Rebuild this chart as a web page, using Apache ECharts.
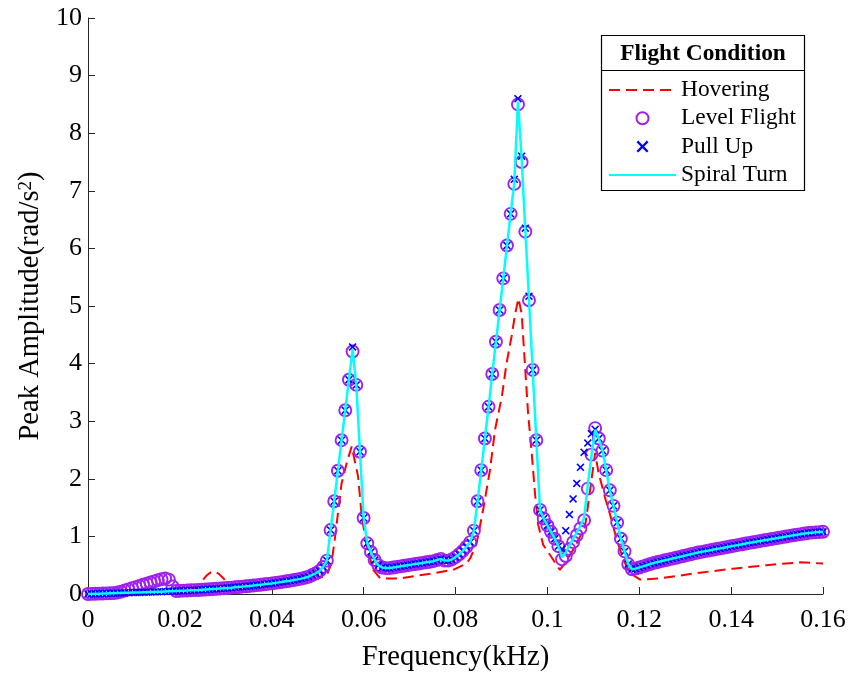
<!DOCTYPE html>
<html>
<head>
<meta charset="utf-8">
<script src="https://cdn.jsdelivr.net/npm/echarts@6/dist/echarts.min.js"></script>
<style>
html,body{margin:0;padding:0;background:#fff;}
#chart{width:858px;height:674px;}
</style>
</head>
<body>
<div id="chart"></div>
<script>
// Frequency grid (kHz) shared by Level Flight, Pull Up and Spiral Turn
const freqKHz = [
0,0.0008,0.0016,0.0024,0.0032,0.004,0.0048,0.0056,0.0064,0.0072,
0.008,0.0088,0.0096,0.0104,0.0112,0.012,0.0128,0.0136,0.0144,0.0152,
0.016,0.0168,0.0176,0.0184,0.0192,0.02,0.0208,0.0216,0.0224,0.0232,
0.024,0.0248,0.0256,0.0264,0.0272,0.028,0.0288,0.0296,0.0304,0.0312,
0.032,0.0328,0.0336,0.0344,0.0352,0.036,0.0368,0.0376,0.0384,0.0392,
0.04,0.0408,0.0416,0.0424,0.0432,0.044,0.0448,0.0456,0.0464,0.0472,
0.048,0.0488,0.0496,0.0504,0.0512,0.052,0.0528,0.0536,0.0544,0.0552,
0.056,0.0568,0.0576,0.0584,0.0592,0.06,0.0608,0.0616,0.0624,0.0632,
0.064,0.0648,0.0656,0.0664,0.0672,0.068,0.0688,0.0696,0.0704,0.0712,
0.072,0.0728,0.0736,0.0744,0.0752,0.076,0.0768,0.0776,0.0784,0.0792,
0.08,0.0808,0.0816,0.0824,0.0832,0.084,0.0848,0.0856,0.0864,0.0872,
0.088,0.0888,0.0896,0.0904,0.0912,0.092,0.0928,0.0936,0.0944,0.0952,
0.096,0.0968,0.0976,0.0984,0.0992,0.1,0.1008,0.1016,0.1024,0.1032,
0.104,0.1048,0.1056,0.1064,0.1072,0.108,0.1088,0.1096,0.1104,0.1112,
0.112,0.1128,0.1136,0.1144,0.1152,0.116,0.1168,0.1176,0.1184,0.1192,
0.12,0.1208,0.1216,0.1224,0.1232,0.124,0.1248,0.1256,0.1264,0.1272,
0.128,0.1288,0.1296,0.1304,0.1312,0.132,0.1328,0.1336,0.1344,0.1352,
0.136,0.1368,0.1376,0.1384,0.1392,0.14,0.1408,0.1416,0.1424,0.1432,
0.144,0.1448,0.1456,0.1464,0.1472,0.148,0.1488,0.1496,0.1504,0.1512,
0.152,0.1528,0.1536,0.1544,0.1552,0.156,0.1568,0.1576,0.1584,0.1592,
0.16
];

const levelFlight = [
0.000,0.002,0.004,0.006,0.008,0.010,0.014,0.016,0.025,0.040,
0.060,0.080,0.100,0.120,0.140,0.160,0.180,0.200,0.220,0.240,
0.255,0.270,0.250,0.130,0.052,0.055,0.058,0.061,0.064,0.067,
0.070,0.074,0.078,0.082,0.086,0.090,0.095,0.100,0.105,0.110,
0.116,0.122,0.128,0.134,0.140,0.147,0.154,0.161,0.168,0.176,
0.184,0.193,0.202,0.211,0.221,0.231,0.242,0.254,0.267,0.281,
0.300,0.330,0.360,0.400,0.470,0.580,1.110,1.610,2.140,2.670,
3.190,3.720,4.210,3.630,2.470,1.320,0.880,0.730,0.590,0.500,
0.460,0.450,0.450,0.460,0.470,0.480,0.490,0.500,0.510,0.520,
0.530,0.540,0.550,0.560,0.570,0.590,0.610,0.580,0.580,0.600,
0.640,0.690,0.750,0.820,0.900,1.100,1.610,2.150,2.700,3.250,
3.820,4.380,4.930,5.480,6.050,6.600,7.120,8.500,7.500,6.290,
5.100,3.890,2.670,1.460,1.310,1.190,1.080,0.960,0.830,0.600,
0.660,0.780,0.900,1.020,1.140,1.280,1.830,2.420,2.880,2.700,
2.490,2.150,1.800,1.530,1.240,0.960,0.740,0.520,0.430,0.440,
0.460,0.480,0.500,0.520,0.540,0.555,0.570,0.585,0.600,0.615,
0.630,0.645,0.660,0.675,0.690,0.705,0.720,0.732,0.744,0.756,
0.768,0.780,0.792,0.804,0.816,0.828,0.840,0.852,0.864,0.876,
0.888,0.899,0.910,0.921,0.932,0.943,0.954,0.965,0.976,0.987,
0.998,1.009,1.020,1.030,1.040,1.050,1.060,1.065,1.070,1.075,
1.080
];

const pullUp = [
0.000,0.002,0.004,0.006,0.008,0.010,0.012,0.014,0.016,0.018,
0.020,0.022,0.024,0.026,0.028,0.030,0.032,0.034,0.036,0.038,
0.040,0.043,0.046,0.049,0.052,0.055,0.058,0.061,0.064,0.067,
0.070,0.074,0.078,0.082,0.086,0.090,0.095,0.100,0.105,0.110,
0.116,0.122,0.128,0.134,0.140,0.147,0.154,0.161,0.168,0.176,
0.184,0.193,0.202,0.211,0.221,0.231,0.242,0.254,0.267,0.281,
0.300,0.330,0.360,0.400,0.470,0.580,1.110,1.610,2.140,2.670,
3.190,3.720,4.290,3.630,2.470,1.320,0.880,0.730,0.590,0.500,
0.460,0.450,0.450,0.460,0.470,0.480,0.490,0.500,0.510,0.520,
0.530,0.540,0.550,0.560,0.570,0.590,0.610,0.580,0.580,0.600,
0.640,0.690,0.750,0.820,0.900,1.100,1.610,2.150,2.700,3.250,
3.820,4.380,4.930,5.480,6.050,6.600,7.200,8.600,7.600,6.350,
5.170,3.890,2.670,1.460,1.310,1.190,1.080,0.960,0.830,0.780,
1.100,1.380,1.650,1.920,2.200,2.460,2.620,2.780,2.860,2.700,
2.490,2.150,1.800,1.530,1.240,0.960,0.740,0.520,0.430,0.440,
0.460,0.480,0.500,0.520,0.540,0.555,0.570,0.585,0.600,0.615,
0.630,0.645,0.660,0.675,0.690,0.705,0.720,0.732,0.744,0.756,
0.768,0.780,0.792,0.804,0.816,0.828,0.840,0.852,0.864,0.876,
0.888,0.899,0.910,0.921,0.932,0.943,0.954,0.965,0.976,0.987,
0.998,1.009,1.020,1.030,1.040,1.050,1.060,1.065,1.070,1.075,
1.080
];

const spiralTurn = [
0.000,0.002,0.004,0.006,0.008,0.010,0.012,0.014,0.016,0.018,
0.020,0.022,0.024,0.026,0.028,0.030,0.032,0.034,0.036,0.038,
0.040,0.043,0.046,0.049,0.052,0.055,0.058,0.061,0.064,0.067,
0.070,0.074,0.078,0.082,0.086,0.090,0.095,0.100,0.105,0.110,
0.116,0.122,0.128,0.134,0.140,0.147,0.154,0.161,0.168,0.176,
0.184,0.193,0.202,0.211,0.221,0.231,0.242,0.254,0.267,0.281,
0.300,0.330,0.360,0.400,0.470,0.580,1.110,1.610,2.140,2.670,
3.190,3.720,4.250,3.630,2.470,1.320,0.880,0.730,0.590,0.500,
0.460,0.450,0.450,0.460,0.470,0.480,0.490,0.500,0.510,0.520,
0.530,0.540,0.550,0.560,0.570,0.590,0.610,0.580,0.580,0.600,
0.640,0.690,0.750,0.820,0.900,1.100,1.610,2.150,2.700,3.250,
3.820,4.380,4.930,5.480,6.050,6.600,7.150,8.550,7.550,6.310,
5.120,3.890,2.670,1.460,1.310,1.190,1.080,0.960,0.830,0.640,
0.720,0.840,0.960,1.070,1.180,1.320,1.900,2.400,2.850,2.700,
2.490,2.150,1.800,1.530,1.240,0.960,0.740,0.520,0.430,0.440,
0.460,0.480,0.500,0.520,0.540,0.555,0.570,0.585,0.600,0.615,
0.630,0.645,0.660,0.675,0.690,0.705,0.720,0.732,0.744,0.756,
0.768,0.780,0.792,0.804,0.816,0.828,0.840,0.852,0.864,0.876,
0.888,0.899,0.910,0.921,0.932,0.943,0.954,0.965,0.976,0.987,
0.998,1.009,1.020,1.030,1.040,1.050,1.060,1.065,1.070,1.075,
1.080
];

// Hovering curve (own sample points, kHz)
const hoverFreq = [
0,0.005,0.01,0.015,0.02,0.0225,0.0238,0.0248,0.0258,0.0268,
0.0276,0.0285,0.0295,0.0305,0.0315,0.033,0.036,0.04,0.044,0.047,
0.049,0.0512,0.052,0.053,0.0538,0.0545,0.0552,0.0563,0.0574,0.0578,
0.0588,0.0596,0.0607,0.0621,0.0636,0.0679,0.0751,0.0795,0.0824,0.0832,
0.0846,0.0861,0.0875,0.0886,0.0901,0.0911,0.0922,0.093,0.0937,0.0944,
0.0951,0.0958,0.0966,0.0973,0.098,0.0991,0.0999,0.1013,0.1027,0.1031,
0.1038,0.106,0.1082,0.1089,0.1096,0.1104,0.1111,0.1125,0.114,0.1151,
0.1166,0.118,0.1202,0.1245,0.1332,0.1404,0.1477,0.155,0.16
];
const hoverAmp = [
0.00,0.01,0.02,0.03,0.05,0.08,0.14,0.22,0.32,0.38,
0.39,0.35,0.27,0.17,0.12,0.10,0.12,0.15,0.19,0.22,
0.24,0.30,0.33,0.53,1.00,1.46,1.92,2.27,2.56,2.59,
2.04,1.34,0.82,0.42,0.27,0.27,0.36,0.42,0.53,0.62,
0.88,1.50,2.15,2.85,3.43,4.00,4.47,4.87,5.13,4.87,
4.00,3.14,2.44,1.75,1.20,0.85,0.76,0.59,0.42,0.39,
0.53,0.82,1.17,1.57,1.98,2.45,2.12,1.69,1.28,0.94,
0.59,0.36,0.25,0.27,0.37,0.44,0.50,0.55,0.53
];

const xTicks = {min: 0, max: 0.16, interval: 0.02};
const yTicks = {min: 0, max: 10, interval: 1};

const seriesNames = ['Hovering', 'Level Flight', 'Pull Up', 'Spiral Turn'];
const FONT = 'Liberation Serif';
const PURPLE = '#A020F0';
const CROSS = 'path://M0,1.4L1.4,0L5,3.6L8.6,0L10,1.4L6.4,5L10,8.6L8.6,10L5,6.4L1.4,10L0,8.6L3.6,5Z';

function pairs(xs, ys) { return xs.map((x, i) => [x, ys[i]]); }

const chart = echarts.init(document.getElementById('chart'), null, {renderer: 'canvas'});
chart.setOption({
  animation: false,
  backgroundColor: '#fff',
  grid: {left: 88, right: 35, top: 18, bottom: 80, containLabel: false, outerBoundsMode: 'none'},
  xAxis: {
    type: 'value', min: xTicks.min, max: xTicks.max, interval: xTicks.interval,
    name: 'Frequency(kHz)', nameLocation: 'middle', nameGap: 49,
    nameTextStyle: {fontFamily: FONT, fontSize: 28.6, color: '#000'},
    axisLine: {show: true, onZero: false, lineStyle: {color: '#262626', width: 1}},
    axisTick: {show: true, inside: true, length: 7, lineStyle: {color: '#262626'}},
    axisLabel: {fontFamily: FONT, fontSize: 26, color: '#000', margin: 13},
    splitLine: {show: false}
  },
  yAxis: {
    type: 'value', min: yTicks.min, max: yTicks.max, interval: yTicks.interval,
    name: 'Peak Amplitude(rad/s{sup|2})', nameLocation: 'middle', nameGap: 42,
    nameTextStyle: {fontFamily: FONT, fontSize: 28.6, color: '#000',
      rich: {sup: {fontFamily: FONT, fontSize: 19, color: '#000', verticalAlign: 'top', padding: [0, 0, 10, 0]}}},
    axisLine: {show: true, lineStyle: {color: '#262626', width: 1}},
    axisTick: {show: true, inside: true, length: 7, lineStyle: {color: '#262626'}},
    axisLabel: {fontFamily: FONT, fontSize: 26, color: '#000', margin: 6},
    splitLine: {show: false}
  },
  legend: {
    orient: 'vertical', left: 608, top: 78, padding: 0,
    itemWidth: 67, itemHeight: 12, itemGap: 4.3,
    textStyle: {fontFamily: FONT, fontSize: 23.4, color: '#000', lineHeight: 24},
    data: [
      {name: 'Hovering', itemStyle: {opacity: 0}},
      {name: 'Level Flight', icon: 'circle', itemStyle: {color: 'rgba(0,0,0,0)', borderColor: PURPLE, borderWidth: 2}},
      {name: 'Pull Up', icon: CROSS, itemStyle: {color: '#0000ff', borderWidth: 0}},
      {name: 'Spiral Turn', itemStyle: {opacity: 0}}
    ]
  },
  graphic: [
    {type: 'rect', z: -1, shape: {x: 601.5, y: 35.5, width: 203, height: 155},
     style: {fill: '#fff', stroke: '#000', lineWidth: 1.2}},
    {type: 'line', shape: {x1: 601.5, y1: 70.5, x2: 804.5, y2: 70.5},
     style: {stroke: '#000', lineWidth: 1}},
    {type: 'text', x: 703, y: 54,
     style: {text: 'Flight Condition', font: 'bold 23.4px "Liberation Serif"', fill: '#000', align: 'center', verticalAlign: 'middle'}}
  ],
  series: [
    {
      name: seriesNames[0], type: 'line', data: pairs(hoverFreq, hoverAmp),
      symbol: 'none', z: 2,
      lineStyle: {color: '#ff0000', width: 2, type: [11, 6]},
      itemStyle: {color: '#ff0000'}
    },
    {
      name: seriesNames[1], type: 'scatter', data: pairs(freqKHz, levelFlight),
      symbol: 'circle', symbolSize: 12, z: 3,
      itemStyle: {color: 'rgba(0,0,0,0)', borderColor: PURPLE, borderWidth: 1.9, opacity: 1}
    },
    {
      name: seriesNames[2], type: 'scatter', data: pairs(freqKHz, pullUp),
      symbol: CROSS, symbolSize: 8, z: 4,
      itemStyle: {color: '#0000ff', opacity: 1}
    },
    {
      name: seriesNames[3], type: 'line', data: pairs(freqKHz, spiralTurn),
      symbol: 'none', z: 5,
      lineStyle: {color: '#00ffff', width: 2.5},
      itemStyle: {color: '#00ffff'}
    }
  ]
});
</script>
</body>
</html>
